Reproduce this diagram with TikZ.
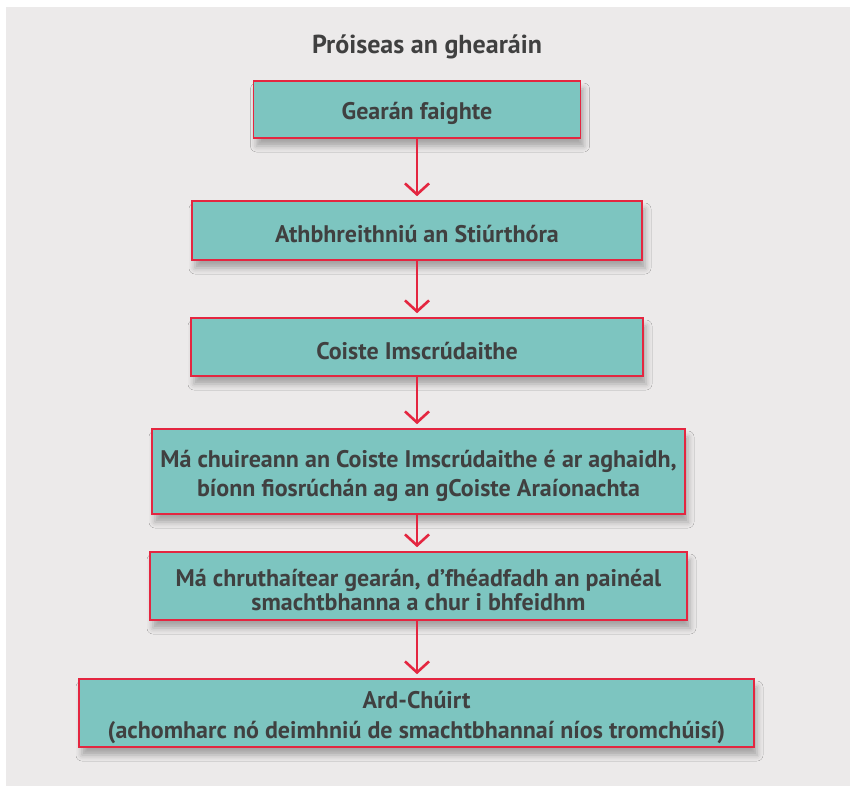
\documentclass[tikz,border=0pt]{standalone}
\usepackage{fontspec}
\setmainfont{PT Sans}
\usetikzlibrary{arrows.meta,shadows.blur}
\definecolor{bgc}{HTML}{ECEAEA}
\definecolor{boxfill}{HTML}{7DC5C0}
\definecolor{boxred}{HTML}{E42640}
\definecolor{txt}{HTML}{404040}
\tikzset{
  stepbox/.style={draw=boxred, line width=1.6pt, fill=boxfill, inner sep=0pt,
    blur shadow={shadow xshift=3pt, shadow yshift=-8pt, shadow blur radius=6pt, shadow opacity=30}},
  steptext/.style={align=center, text=txt, inner sep=0pt, yshift=-4pt,
    font=\fontsize{24}{29}\selectfont\bfseries},
  arr/.style={draw=boxred, line width=2.6pt, -{Straight Barb[length=11pt,width=24pt,line width=2.6pt]}, shorten >=4pt},
}
\begin{document}
\begin{tikzpicture}[x=1pt,y=-1pt]
\useasboundingbox (0,0) rectangle (850,792);
\fill[bgc] (6,7) rectangle (850,786);
\node[text=txt, font=\fontsize{26}{30}\selectfont\bfseries] (title) at (427,47) {Próiseas an ghearáin};
\node[stepbox, minimum width=327pt, minimum height=57pt] (b1) at (417,109.5) {};
\node[stepbox, minimum width=450pt, minimum height=59pt] (b2) at (417,230.5) {};
\node[stepbox, minimum width=452pt, minimum height=58pt] (b3) at (417,347) {};
\node[stepbox, minimum width=533pt, minimum height=85pt] (b4) at (418.5,471.5) {};
\node[stepbox, minimum width=537pt, minimum height=68pt] (b5) at (418.5,586) {};
\node[stepbox, minimum width=675pt, minimum height=68pt] (b6) at (416.5,713) {};
\node[steptext] (t1) at (b1.center) {Gearán faighte};
\node[steptext] (t2) at (b2.center) {Athbhreithniú an Stiúrthóra};
\node[steptext] (t3) at (b3.center) {Coiste Imscrúdaithe};
\node[steptext] (t4) at (b4.center) {Má chuireann an Coiste Imscrúdaithe é ar aghaidh,\\bíonn fiosrúchán ag an gCoiste Araíonachta};
\node[steptext, font=\fontsize{24}{22}\selectfont\bfseries] (t5) at (b5.center) {Má chruthaítear gearán, d’fhéadfadh an painéal\\smachtbhanna a chur i bhfeidhm};
\node[steptext, font=\fontsize{24}{30}\selectfont\bfseries] (t6) at (b6.center) {Ard-Chúirt\\(achomharc nó deimhniú de smachtbhannaí níos tromchúisí)};
\draw[arr] (b1.south) -- (b2.north);
\draw[arr] (b2.south) -- (b3.north);
\draw[arr] (b3.south) -- (b3.south |- b4.north);
\draw[arr] (b4.south -| b3.south) -- (b3.south |- b5.north);
\draw[arr] (b5.south -| b3.south) -- (b3.south |- b6.north);
\end{tikzpicture}
\end{document}
